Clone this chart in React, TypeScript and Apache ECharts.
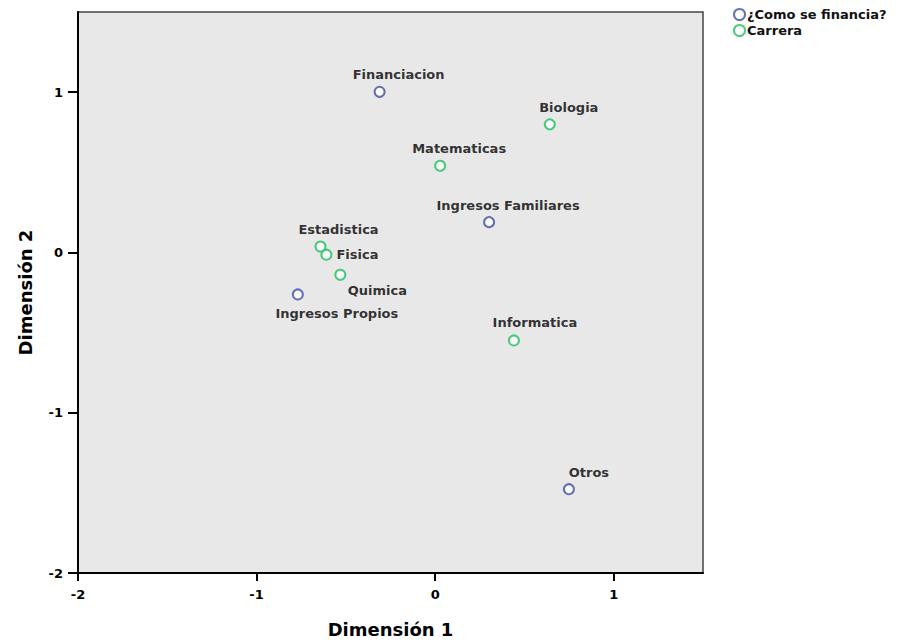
import React, { useEffect, useRef } from "react";
import * as echarts from "echarts";

const financeNames = ["Financiacion", "Ingresos Familiares", "Ingresos Propios", "Otros"];
const financeX = [-0.311, 0.302, -0.769, 0.749];
const financeY = [1.002, 0.189, -0.262, -1.477];

const careerNames = ["Biologia", "Matematicas", "Estadistica", "Fisica", "Quimica", "Informatica"];
const careerX = [0.642, 0.028, -0.642, -0.609, -0.531, 0.441];
const careerY = [0.799, 0.541, 0.037, -0.014, -0.139, -0.549];

const xTicks = [-2, -1, 0, 1];
const yTicks = [-2, -1, 0, 1];

// label placement (styling only)
const labelOffsets: Record<string, [number, number]> = {
  Financiacion: [19, -17],
  "Ingresos Familiares": [19, -17],
  "Ingresos Propios": [39, 19],
  Otros: [20, -17],
  Biologia: [19, -17],
  Matematicas: [19, -17],
  Estadistica: [18, -17],
  Fisica: [31, 0],
  Quimica: [37, 16],
  Informatica: [21, -18],
};

const BLUE = "#3f4f9e";
const GREEN = "#1fbf5f";
const FONT = "DejaVu Sans, Liberation Sans, Arial, sans-serif";

function makeData(names: string[], xs: number[], ys: number[]) {
  return names.map((n, i) => ({
    name: n,
    value: [xs[i], ys[i]],
    label: {
      show: true,
      formatter: n,
      position: "inside",
      offset: labelOffsets[n] || [19, -17],
      color: "#000",
      fontFamily: FONT,
      fontWeight: "bold",
      fontSize: 13,
    },
  }));
}

export default function App() {
  const ref = useRef<HTMLDivElement>(null);
  useEffect(() => {
    if (!ref.current) return;
    const chart = echarts.init(ref.current, null, { renderer: "svg" });
    const axisCommon = {
      type: "value" as const,
      min: -2,
      max: 1.5,
      interval: 1,
      splitLine: { show: false },
      axisLine: { show: true, onZero: false, lineStyle: { color: "#000", width: 2 } },
      axisLabel: {
        color: "#000",
        fontFamily: FONT,
        fontWeight: "bold",
        fontSize: 13,
        showMaxLabel: false,
        margin: 15,
      },
      nameLocation: "middle" as const,
      nameTextStyle: { color: "#000", fontFamily: FONT, fontWeight: "bold", fontSize: 18 },
    };
    chart.setOption({
      animation: false,
      backgroundColor: "#fff",
      grid: {
        left: 78,
        top: 12,
        right: 213,
        bottom: 65,
        show: true,
        backgroundColor: "#e8e8e8",
        borderColor: "#444",
        borderWidth: 1.5,
      },
      legend: {
        show: true,
        orient: "vertical",
        left: 728,
        top: 3,
        itemWidth: 11,
        itemHeight: 11,
        itemGap: 3,
        data: ["¿Como se financia?", "Carrera"],
        textStyle: { color: "#111", fontFamily: FONT, fontSize: 13, fontWeight: "bold", padding: [0, 0, 0, -3] },
      },
      xAxis: {
        ...axisCommon,
        name: "Dimensión 1",
        nameGap: 47,
        axisTick: { show: true, inside: false, length: 8, lineStyle: { color: "#000", width: 2 } },
        axisLabel: { ...axisCommon.axisLabel, formatter: (v: number) => (xTicks.includes(v) ? String(v) : "") },
      },
      yAxis: {
        ...axisCommon,
        name: "Dimensión 2",
        nameGap: 44,
        axisTick: { show: true, inside: false, length: 10, lineStyle: { color: "#000", width: 2 } },
        axisLabel: { ...axisCommon.axisLabel, formatter: (v: number) => (yTicks.includes(v) ? String(v) : "") },
      },
      series: [
        {
          name: "¿Como se financia?",
          type: "scatter",
          symbol: "emptyCircle",
          symbolSize: 10,
          itemStyle: { color: BLUE, borderColor: BLUE, borderWidth: 2 },
          data: makeData(financeNames, financeX, financeY),
        },
        {
          name: "Carrera",
          type: "scatter",
          symbol: "emptyCircle",
          symbolSize: 10,
          itemStyle: { color: GREEN, borderColor: GREEN, borderWidth: 2 },
          data: makeData(careerNames, careerX, careerY),
        },
      ],
    });
    return () => chart.dispose();
  }, []);
  return (
    <div
      ref={ref}
      style={{ position: "fixed", left: 0, top: 0, width: 916, height: 643 }}
    />
  );
}
